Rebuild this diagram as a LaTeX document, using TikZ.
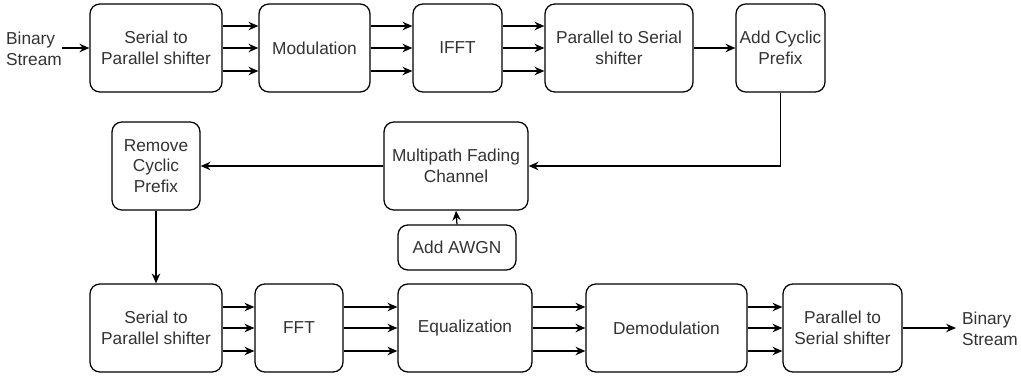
\documentclass[tikz,border=0pt]{standalone}
\usepackage{fontspec}
\setmainfont{Liberation Sans}
\usetikzlibrary{arrows.meta}
\definecolor{txtgray}{HTML}{333333}

\begin{document}
\begin{tikzpicture}[
    x=0.025cm, y=-0.025cm,
    block/.style={rectangle, rounded corners=7pt, draw=black, line width=0.9pt,
        fill=white, align=center, text=txtgray, inner sep=1pt,
        font=\fontsize{12.3}{14.8}\selectfont, minimum height=88*0.025cm},
    label/.style={align=left, text=txtgray, inner sep=0pt,
        font=\fontsize{12.3}{14.8}\selectfont},
    arr/.style={line width=0.9pt, -{Stealth[length=7pt,width=6pt]}}
]
    \useasboundingbox (0,0) rectangle (1021,377);

    % transmitter
    \node[label] (bin) at (34,49) {Binary\\Stream};
    \node[block, minimum width=132*0.025cm] (sp) at (156,48) {Serial to\\Parallel shifter};
    \node[block, minimum width=111*0.025cm] (mod) at (314.5,48) {Modulation};
    \node[block, minimum width=89*0.025cm] (ifft) at (457.5,48) {IFFT};
    \node[block, minimum width=148*0.025cm] (ps) at (619,48) {Parallel to Serial\\shifter};
    \node[block, minimum width=89*0.025cm] (addcp) at (780.5,48) {Add Cyclic\\Prefix};

    % channel
    \node[block, minimum width=144*0.025cm] (chan) at (456,166) {Multipath Fading\\Channel};
    \node[block, minimum width=118*0.025cm, minimum height=45*0.025cm] (awgn) at (457,247.5) {Add AWGN};
    \node[block, minimum width=88*0.025cm] (rmcp) at (156,166) {Remove\\Cyclic\\Prefix};

    % receiver
    \node[block, minimum width=132*0.025cm] (sp2) at (156,328) {Serial to\\Parallel shifter};
    \node[block, minimum width=88*0.025cm] (fft) at (299,328) {FFT};
    \node[block, minimum width=134*0.025cm] (eq) at (465,328) {Equalization};
    \node[block, minimum width=161*0.025cm] (demod) at (666.5,328) {Demodulation};
    \node[block, minimum width=119*0.025cm] (ps2) at (842.5,328) {Parallel to\\Serial shifter};
    \node[label] (bout) at (990,329) {Binary\\Stream};

    \draw[arr] (62,48) -- (sp.west);
    \draw[arr] ([yshift=-23*0.025cm]sp.east) -- ([yshift=-23*0.025cm]mod.west);
    \draw[arr] (sp.east) -- (mod.west);
    \draw[arr] ([yshift=22*0.025cm]sp.east) -- ([yshift=22*0.025cm]mod.west);
    \draw[arr] ([yshift=-23*0.025cm]mod.east) -- ([yshift=-23*0.025cm]ifft.west);
    \draw[arr] (mod.east) -- (ifft.west);
    \draw[arr] ([yshift=22*0.025cm]mod.east) -- ([yshift=22*0.025cm]ifft.west);
    \draw[arr] ([yshift=-23*0.025cm]ifft.east) -- ([yshift=-23*0.025cm]ps.west);
    \draw[arr] (ifft.east) -- (ps.west);
    \draw[arr] ([yshift=22*0.025cm]ifft.east) -- ([yshift=22*0.025cm]ps.west);
    \draw[arr] (ps.east) -- (addcp.west);
    \draw[arr] (addcp.south) |- (chan.east);
    \draw[arr] (awgn.north) -- (chan.south);
    \draw[arr] (chan.west) -- (rmcp.east);
    \draw[arr] (rmcp.south) -- (sp2.north);
    \draw[arr] ([yshift=-23*0.025cm]sp2.east) -- ([yshift=-23*0.025cm]fft.west);
    \draw[arr] (sp2.east) -- (fft.west);
    \draw[arr] ([yshift=21*0.025cm]sp2.east) -- ([yshift=21*0.025cm]fft.west);
    \draw[arr] ([yshift=-23*0.025cm]fft.east) -- ([yshift=-23*0.025cm]eq.west);
    \draw[arr] (fft.east) -- (eq.west);
    \draw[arr] ([yshift=21*0.025cm]fft.east) -- ([yshift=21*0.025cm]eq.west);
    \draw[arr] ([yshift=-23*0.025cm]eq.east) -- ([yshift=-23*0.025cm]demod.west);
    \draw[arr] (eq.east) -- (demod.west);
    \draw[arr] ([yshift=21*0.025cm]eq.east) -- ([yshift=21*0.025cm]demod.west);
    \draw[arr] ([yshift=-23*0.025cm]demod.east) -- ([yshift=-23*0.025cm]ps2.west);
    \draw[arr] (demod.east) -- (ps2.west);
    \draw[arr] ([yshift=21*0.025cm]demod.east) -- ([yshift=21*0.025cm]ps2.west);
    \draw[arr] (ps2.east) -- (956,328);
\end{tikzpicture}
\end{document}
